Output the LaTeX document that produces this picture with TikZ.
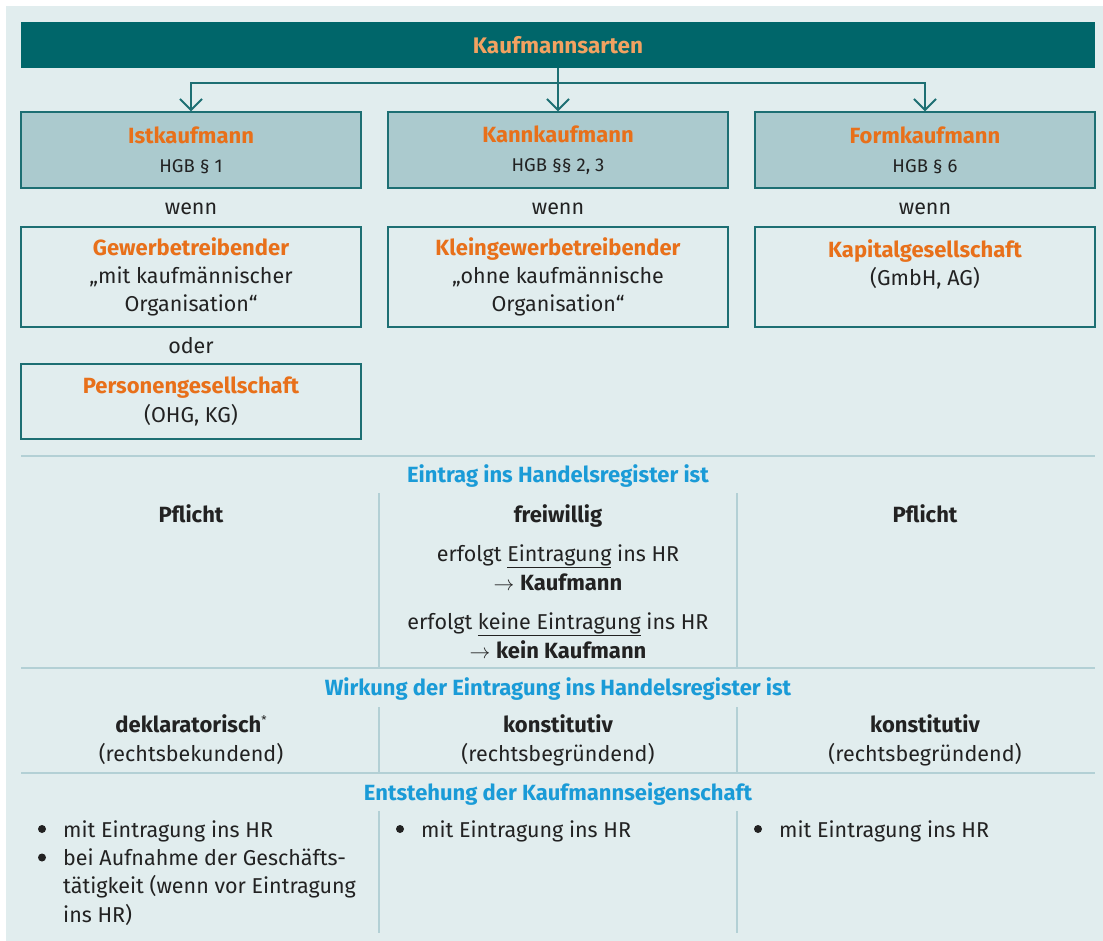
\documentclass[tikz,border=0pt]{standalone}
\usepackage{fontspec}
\setmainfont{Fira Sans}
\usetikzlibrary{arrows.meta,positioning}

\definecolor{grundcol}{HTML}{E1EDEE}
\definecolor{kopfcol}{HTML}{00666A}
\definecolor{titelcol}{HTML}{F2A261}
\definecolor{boxfill}{HTML}{ABCACE}
\definecolor{boxrand}{HTML}{1D6F73}
\definecolor{orangecol}{HTML}{E8701A}
\definecolor{blaucol}{HTML}{1A9BD7}
\definecolor{liniecol}{HTML}{B3D0D5}
\definecolor{textcol}{HTML}{222222}

\newcommand{\art}[1]{\textcolor{orangecol}{\fontsize{22}{28.3}\selectfont\bfseries #1}}
\newcommand{\hgbfont}{\fontsize{18.5}{22}\selectfont}
\newcommand{\fett}[1]{{\fontsize{22}{28.3}\selectfont\bfseries #1}}

\begin{document}
\begin{tikzpicture}[x=1pt,y=-1pt,
    font=\fontsize{21.5}{28.3}\selectfont, text=textcol,
    kopf/.style={fill=kopfcol, minimum width=1074, minimum height=46, inner sep=0,
        font=\fontsize{22.5}{24}\selectfont\bfseries, text=titelcol},
    artbox/.style={draw=boxrand, line width=1.2pt, fill=boxfill, minimum width=340,
        minimum height=76, align=center, inner sep=0},
    bedbox/.style={draw=boxrand, line width=1.2pt, minimum width=340,
        minimum height=100, align=center, inner sep=0},
    pfeil/.style={draw=boxrand, line width=2pt,
        -{Straight Barb[length=11pt,width=22pt,line width=2pt]}},
    trenn/.style={draw=liniecol, line width=2pt},
    zwtitel/.style={anchor=base, text=blaucol, font=\fontsize{22}{28}\selectfont\bfseries},
    zeile/.style={anchor=base, align=center},
    punkt/.style={circle, fill=textcol, inner sep=0, minimum size=8},
    eintrag/.style={anchor=base west, align=left, inner xsep=0}
  ]
    \useasboundingbox (0,0) rectangle (1103,941);
    \fill[grundcol] (6,6) rectangle (1103,941);

    % Kopf und Arten
    \node[kopf] (kopf) at (558,45) {Kaufmannsarten};
    \node[artbox] (ist) at (191,150) {\art{Istkaufmann}\\[1pt]{\hgbfont HGB § 1}};
    \node[artbox] (kann) at (558,150) {\art{Kannkaufmann}\\[1pt]{\hgbfont HGB §§ 2, 3}};
    \node[artbox] (form) at (925,150) {\art{Formkaufmann}\\[1pt]{\hgbfont HGB § 6}};
    \coordinate (verteiler) at (558,83);
    \draw[pfeil] (kopf.south) -- (kann.north);
    \draw[pfeil] (verteiler) -| (ist.north);
    \draw[pfeil] (verteiler) -| (form.north);

    % Voraussetzungen
    \foreach \X/\N in {191/wa,558/wb,925/wc}
        {\node[zeile] (\N) at (\X,215) {wenn};}
    \node[bedbox] (gew) at (191,277) {\art{Gewerbetreibender}\\„mit kaufmännischer\\Organisation“};
    \node[bedbox] (klein) at (558,277) {\art{Kleingewerbetreibender}\\„ohne kaufmännische\\Organisation“};
    \node[bedbox] (kap) at (925,277) {\art{Kapitalgesellschaft}\\(GmbH, AG)\\\mbox{}};
    \node[zeile] (oder) at (191,353) {oder};
    \node[bedbox, minimum height=75] (pers) at (191,401.5) {\art{Personengesellschaft}\\(OHG, KG)};

    % Tabelle
    \foreach \Y in {456,668,773}
        {\draw[trenn] (21,\Y) -- (1095,\Y);}
    \foreach \X in {379,737}
        {\draw[trenn] (\X,493) -- (\X,667);
         \draw[trenn] (\X,707) -- (\X,772);
         \draw[trenn] (\X,811) -- (\X,933);}

    \node[zwtitel] (eintr) at (558,482) {Eintrag ins Handelsregister ist};
    \node[zeile] (pfl1) at (191,522) {\fett{Pflicht}};
    \node[zeile] (frei) at (558,522) {\fett{freiwillig}};
    \node[zeile] (pfl2) at (925,522) {\fett{Pflicht}};
    \node[zeile] (ja) at (558,590) {erfolgt \underline{Eintragung} ins HR\\$\rightarrow$ \fett{Kaufmann}};
    \node[zeile] (nein) at (558,658) {erfolgt \underline{keine Eintragung} ins HR\\$\rightarrow$ \fett{kein Kaufmann}};

    \node[zwtitel] (wirk) at (558,695) {Wirkung der Eintragung ins Handelsregister ist};
    \node[zeile] (dekl) at (191,761) {\fett{deklaratorisch}\raisebox{8pt}{\fontsize{12}{12}\selectfont*}\\(rechtsbekundend)};
    \node[zeile] (konst1) at (558,761) {\fett{konstitutiv}\\(rechtsbegründend)};
    \node[zeile] (konst2) at (925,761) {\fett{konstitutiv}\\(rechtsbegründend)};

    \node[zwtitel] (entst) at (558,800) {Entstehung der Kaufmannseigenschaft};
    \foreach \X/\N in {42/a,400/b,758/c}
        {\node[punkt] (p\N) at (\X,829) {};
         \node[eintrag] (e\N) at (\X+21,837) {mit Eintragung ins HR};}
    \node[punkt] (pd) at (42,857.5) {};
    \node[eintrag] (ed) at (63,922) {bei Aufnahme der Geschäfts-\\tätigkeit (wenn vor Eintragung\\ins HR)};
\end{tikzpicture}
\end{document}
